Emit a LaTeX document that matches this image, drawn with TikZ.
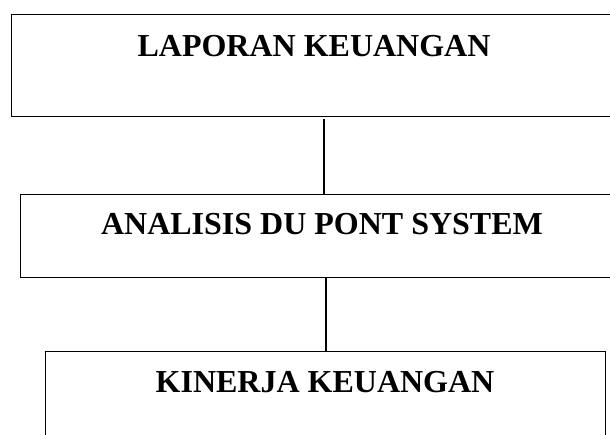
\documentclass[tikz,border=0pt]{standalone}
\usepackage{fontspec}
\setmainfont{Liberation Serif}
\begin{document}
\begin{tikzpicture}[x=1pt,y=-1pt,
  box/.style={draw=black,line width=1.4pt,inner sep=0pt,anchor=north west},
  lbl/.style={font=\fontsize{32}{38}\selectfont\bfseries,anchor=base,inner sep=0pt},
  conn/.style={draw=black,line width=1.3pt}]
\useasboundingbox (0,0) rectangle (610,434);
\node[box,minimum width=612pt,minimum height=102pt] (b1) at (11,14) {};
\node[box,minimum width=612pt,minimum height=83pt] (b2) at (20,194) {};
\node[box,minimum width=560pt,minimum height=100pt] (b3) at (45,351) {};
\node[lbl] (t1) at (314,56) {LAPORAN KEUANGAN};
\node[lbl] (t2) at (322,234) {ANALISIS DU PONT SYSTEM};
\node[lbl] (t3) at (325,392) {KINERJA KEUANGAN};
\coordinate (c1) at (324,119);
\coordinate (c2) at (326,277);
\draw[conn] (c1) -- (c1 |- b2.north);
\draw[conn] (c2) -- (c2 |- b3.north);
\end{tikzpicture}
\end{document}
